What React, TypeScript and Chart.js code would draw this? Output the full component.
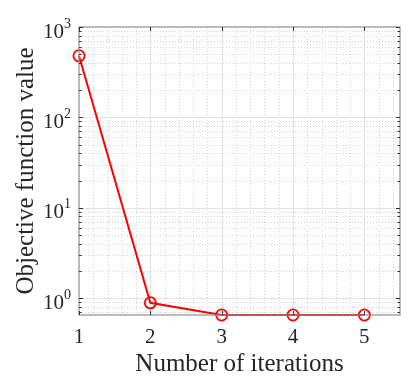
import React, { useEffect, useRef } from "react";
import { Chart, registerables } from "chart.js";

Chart.register(...registerables);

const iterations = [1, 2, 3, 4, 5];
const objectiveValues = [480, 0.887, 0.65, 0.65, 0.65];
const xTickLabels = [1, 2, 3, 4, 5];
const yTickExponents = [0, 1, 2, 3];

const FONT = "'Liberation Serif', 'Times New Roman', serif";

const gridPlugin = {
  id: "matlabGrid",
  beforeDatasetsDraw(chart: any) {
    const { ctx, chartArea: a, scales } = chart;
    const xs = scales.x;
    const ys = scales.y;
    ctx.save();
    ctx.lineWidth = 1;
    // minor grid (dotted)
    ctx.strokeStyle = "#d4d4d4";
    ctx.setLineDash([1, 2]);
    for (let i = 1; i < 23; i++) {
      const v = 1 + i * 0.2;
      if (Math.abs(v - Math.round(v)) < 1e-6) continue;
      if (v >= xs.max) break;
      const px = Math.round(xs.getPixelForValue(v)) + 0.5;
      ctx.beginPath();
      ctx.moveTo(px, a.top);
      ctx.lineTo(px, a.bottom);
      ctx.stroke();
    }
    for (let d = -1; d <= 2; d++) {
      for (let k = 2; k <= 9; k++) {
        const v = k * Math.pow(10, d);
        if (v <= ys.min || v >= ys.max) continue;
        const py = Math.round(ys.getPixelForValue(v)) + 0.5;
        ctx.beginPath();
        ctx.moveTo(a.left, py);
        ctx.lineTo(a.right, py);
        ctx.stroke();
      }
    }
    // major grid (solid)
    ctx.setLineDash([]);
    ctx.strokeStyle = "#e3e3e3";
    for (const v of xTickLabels) {
      if (v <= xs.min) continue;
      const px = Math.round(xs.getPixelForValue(v)) + 0.5;
      ctx.beginPath();
      ctx.moveTo(px, a.top);
      ctx.lineTo(px, a.bottom);
      ctx.stroke();
    }
    for (const e of yTickExponents) {
      const v = Math.pow(10, e);
      if (v <= ys.min || v >= ys.max) continue;
      const py = Math.round(ys.getPixelForValue(v)) + 0.5;
      ctx.beginPath();
      ctx.moveTo(a.left, py);
      ctx.lineTo(a.right, py);
      ctx.stroke();
    }
    ctx.restore();
  },
  afterDraw(chart: any) {
    const { ctx, chartArea: a, scales } = chart;
    const xs = scales.x;
    const ys = scales.y;
    ctx.save();
    // box
    ctx.strokeStyle = "#8f8f8f";
    ctx.lineWidth = 1.2;
    ctx.strokeRect(a.left, a.top, a.right - a.left, a.bottom - a.top);
    // ticks
    ctx.strokeStyle = "#333";
    ctx.lineWidth = 1;
    for (const v of xTickLabels) {
      const px = Math.round(xs.getPixelForValue(v)) + 0.5;
      ctx.beginPath();
      ctx.moveTo(px, a.bottom);
      ctx.lineTo(px, a.bottom - 4);
      ctx.moveTo(px, a.top);
      ctx.lineTo(px, a.top + 4);
      ctx.stroke();
    }
    for (let d = -1; d <= 3; d++) {
      for (let k = 1; k <= 9; k++) {
        const v = k * Math.pow(10, d);
        if (v < ys.min - 1e-9 || v > ys.max + 1e-9) continue;
        const len = k === 1 ? 4 : 2.5;
        const py = Math.round(ys.getPixelForValue(v)) + 0.5;
        ctx.beginPath();
        ctx.moveTo(a.left, py);
        ctx.lineTo(a.left + len, py);
        ctx.moveTo(a.right, py);
        ctx.lineTo(a.right - len, py);
        ctx.stroke();
      }
    }
    // x tick labels
    ctx.fillStyle = "#262626";
    ctx.font = `21px ${FONT}`;
    ctx.textAlign = "center";
    ctx.textBaseline = "alphabetic";
    for (const v of xTickLabels) {
      ctx.fillText(String(v), xs.getPixelForValue(v), a.bottom + 28);
    }
    // y tick labels 10^n
    for (const e of yTickExponents) {
      const py = ys.getPixelForValue(Math.pow(10, e));
      ctx.font = `21px ${FONT}`;
      ctx.textAlign = "right";
      ctx.fillText("10", a.left - 15, py + 10.5);
      ctx.font = `14px ${FONT}`;
      ctx.textAlign = "left";
      ctx.fillText(String(e), a.left - 15, py + 0.5);
    }
    // axis titles
    ctx.font = `25px ${FONT}`;
    ctx.textAlign = "center";
    ctx.fillText("Number of iterations", (a.left + a.right) / 2, a.bottom + 56);
    ctx.save();
    ctx.translate(33, (a.top + a.bottom) / 2);
    ctx.rotate(-Math.PI / 2);
    ctx.fillText("Objective function value", 0, 0);
    ctx.restore();
    ctx.restore();
  },
};

export default function App() {
  const ref = useRef<HTMLCanvasElement>(null);
  useEffect(() => {
    document.body.style.margin = "0";
    const chart = new Chart(ref.current!, {
      type: "line",
      data: {
        datasets: [
          {
            data: iterations.map((x, i) => ({ x, y: objectiveValues[i] })),
            borderColor: "#ff0000",
            borderWidth: 2,
            pointRadius: 5.6,
            pointBorderWidth: 1.8,
            pointBorderColor: "#ff0000",
            pointBackgroundColor: "rgba(0,0,0,0)",
            tension: 0,
            clip: false as any,
          },
        ],
      },
      options: {
        responsive: false,
        animation: false,
        layout: { padding: { top: 27, right: 15, left: 0, bottom: 0 } },
        plugins: { legend: { display: false }, tooltip: { enabled: false } },
        scales: {
          x: {
            type: "linear",
            min: 1,
            max: 5.5,
            ticks: { display: false },
            grid: { display: false },
            border: { display: false },
            afterFit: (s: any) => {
              s.height = 72;
            },
          },
          y: {
            type: "logarithmic",
            min: 0.65,
            max: 1000,
            ticks: { display: false },
            grid: { display: false },
            border: { display: false },
            afterFit: (s: any) => {
              s.width = 79;
            },
          },
        },
      },
      plugins: [gridPlugin],
    });
    return () => chart.destroy();
  }, []);
  return (
    <div style={{ width: 415, height: 387 }}>
      <canvas ref={ref} width={415} height={387} />
    </div>
  );
}
